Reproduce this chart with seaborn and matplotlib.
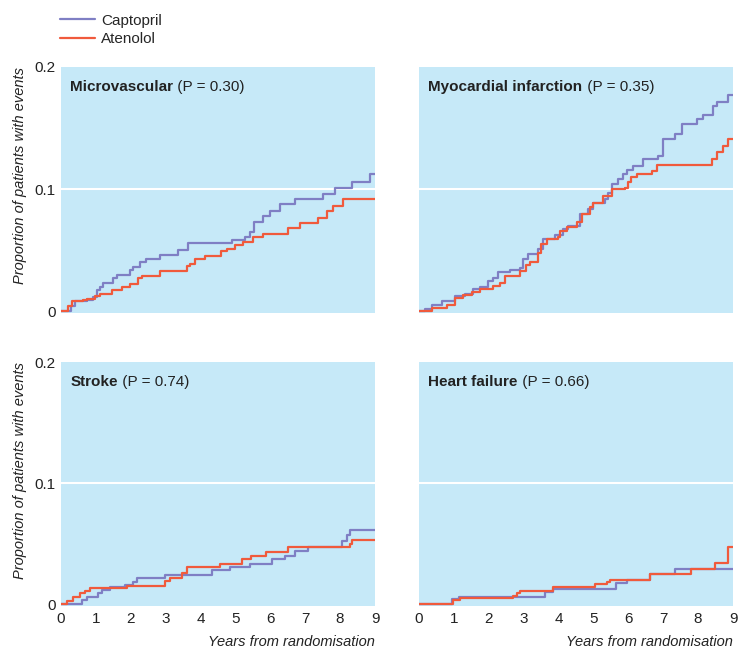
import matplotlib
matplotlib.use("Agg")
import matplotlib.pyplot as plt
import seaborn as sns
import pandas as pd
import numpy as np

# Step curves (years, cumulative proportion)
micro_cap_t = [0, 0.28, 0.40, 0.74, 0.93, 1.02, 1.12, 1.21, 1.48, 1.60, 1.98, 2.05, 2.26, 2.45, 2.84,
               3.36, 3.65, 4.89, 5.27, 5.42, 5.53, 5.80, 5.99, 6.28, 6.70, 7.52, 7.85, 8.33, 8.85, 9.0]
micro_cap_v = [0, 0.004, 0.008, 0.009, 0.012, 0.017, 0.020, 0.023, 0.027, 0.030, 0.034, 0.036, 0.040, 0.043, 0.046,
               0.050, 0.056, 0.058, 0.061, 0.065, 0.073, 0.078, 0.082, 0.088, 0.092, 0.096, 0.101, 0.106, 0.112, 0.112]
micro_ate_t = [0, 0.21, 0.31, 0.64, 0.74, 0.97, 1.12, 1.45, 1.74, 1.98, 2.22, 2.31, 2.84, 3.60, 3.70, 3.84,
               4.13, 4.60, 4.75, 4.99, 5.22, 5.51, 5.80, 6.51, 6.85, 7.37, 7.61, 7.80, 8.09, 9.0]
micro_ate_v = [0, 0.004, 0.008, 0.009, 0.010, 0.0125, 0.014, 0.017, 0.020, 0.022, 0.027, 0.029, 0.033, 0.037, 0.039, 0.043,
               0.045, 0.049, 0.051, 0.054, 0.057, 0.061, 0.063, 0.068, 0.072, 0.076, 0.082, 0.086, 0.092, 0.092]

mi_cap_t = [0, 0.17, 0.36, 0.65, 1.03, 1.32, 1.56, 1.75, 1.99, 2.13, 2.27, 2.61, 2.89, 2.99, 3.13, 3.42, 3.56,
            3.90, 4.14, 4.28, 4.61, 4.85, 5.00, 5.33, 5.42, 5.52, 5.71, 5.85, 5.95, 6.14, 6.43, 6.86, 7.00,
            7.34, 7.53, 7.96, 8.15, 8.43, 8.53, 8.86, 9.0]
mi_cap_v = [0, 0.002, 0.005, 0.008, 0.0125, 0.014, 0.018, 0.020, 0.0245, 0.027, 0.032, 0.034, 0.035, 0.043, 0.047, 0.051, 0.059,
            0.062, 0.067, 0.070, 0.080, 0.084, 0.089, 0.092, 0.097, 0.104, 0.108, 0.112, 0.116, 0.1185, 0.125, 0.127, 0.141,
            0.145, 0.153, 0.157, 0.161, 0.168, 0.171, 0.177, 0.177]
mi_ate_t = [0, 0.36, 0.79, 1.03, 1.27, 1.51, 1.75, 2.13, 2.32, 2.46, 2.89, 3.08, 3.18, 3.42, 3.51, 3.66, 3.99,
            4.04, 4.23, 4.52, 4.66, 4.90, 5.00, 5.28, 5.52, 5.90, 6.00, 6.09, 6.24, 6.67, 6.81, 8.29, 8.39,
            8.53, 8.72, 8.86, 9.0]
mi_ate_v = [0, 0.003, 0.005, 0.011, 0.013, 0.016, 0.0185, 0.021, 0.023, 0.029, 0.033, 0.0375, 0.040, 0.048, 0.055, 0.059, 0.061,
            0.066, 0.069, 0.073, 0.080, 0.085, 0.089, 0.094, 0.100, 0.101, 0.106, 0.1095, 0.112, 0.115, 0.1196, 0.1196, 0.125,
            0.130, 0.135, 0.141, 0.141]

stroke_cap_t = [0, 0.61, 0.74, 1.07, 1.17, 1.40, 1.83, 2.07, 2.17, 2.98, 4.32, 4.84, 5.42, 6.04, 6.42, 6.70,
                7.09, 8.04, 8.19, 8.28, 9.0]
stroke_cap_v = [0, 0.0035, 0.006, 0.009, 0.012, 0.014, 0.016, 0.0185, 0.022, 0.024, 0.028, 0.031, 0.033, 0.0375, 0.040, 0.044,
                0.047, 0.052, 0.057, 0.061, 0.061]
stroke_ate_t = [0, 0.18, 0.35, 0.54, 0.69, 0.83, 1.88, 2.98, 3.12, 3.46, 3.60, 4.56, 5.18, 5.46, 5.89, 6.51,
                8.28, 8.33, 9.0]
stroke_ate_v = [0, 0.003, 0.006, 0.009, 0.011, 0.013, 0.015, 0.019, 0.022, 0.026, 0.031, 0.033, 0.037, 0.040, 0.043, 0.047,
                0.050, 0.053, 0.053]

hf_cap_t = [0, 0.94, 1.16, 3.61, 3.85, 5.66, 5.95, 6.62, 7.34, 9.0]
hf_cap_v = [0, 0.0044, 0.0063, 0.0098, 0.0126, 0.0172, 0.020, 0.0246, 0.029, 0.029]
hf_ate_t = [0, 0.98, 1.17, 2.70, 2.80, 2.89, 3.85, 5.04, 5.38, 5.47, 6.62, 7.81, 8.48, 8.86, 9.0]
hf_ate_v = [0, 0.0036, 0.0049, 0.0071, 0.009, 0.011, 0.0139, 0.0167, 0.0186, 0.0199, 0.0246, 0.029, 0.0344, 0.047, 0.047]

panels = ["Microvascular", "Myocardial infarction", "Stroke", "Heart failure"]
p_values = ["0.30", "0.35", "0.74", "0.66"]
drugs = ["Captopril", "Atenolol"]
x_ticks = [0, 1, 2, 3, 4, 5, 6, 7, 8, 9]
y_ticks = [0, 0.1, 0.2]
y_tick_labels = ["0", "0.1", "0.2"]

curves = {
    ("Microvascular", "Captopril"): (micro_cap_t, micro_cap_v),
    ("Microvascular", "Atenolol"): (micro_ate_t, micro_ate_v),
    ("Myocardial infarction", "Captopril"): (mi_cap_t, mi_cap_v),
    ("Myocardial infarction", "Atenolol"): (mi_ate_t, mi_ate_v),
    ("Stroke", "Captopril"): (stroke_cap_t, stroke_cap_v),
    ("Stroke", "Atenolol"): (stroke_ate_t, stroke_ate_v),
    ("Heart failure", "Captopril"): (hf_cap_t, hf_cap_v),
    ("Heart failure", "Atenolol"): (hf_ate_t, hf_ate_v),
}

rows = []
for (panel, drug), (t, v) in curves.items():
    for ti, vi in zip(t, v):
        rows.append({"panel": panel, "drug": drug, "year": ti, "value": vi})
df = pd.DataFrame(rows)

colors = {"Captopril": "#7f7fc4", "Atenolol": "#f05a3c"}
bg = "#c6e9f8"
ink = "#222222"

sns.set_theme(style="white")
plt.rcParams["font.family"] = ["Liberation Sans", "DejaVu Sans"]
plt.rcParams["axes.facecolor"] = bg

fig = plt.figure(figsize=(7.46, 6.5), dpi=100)
W, H = 746, 650
boxes = [(61, 67, 375, 313), (419, 67, 733, 313), (61, 362, 375, 606), (419, 362, 733, 606)]

for i, panel in enumerate(panels):
    x0, y0, x1, y1 = boxes[i]
    ax = fig.add_axes([x0 / W, 1 - y1 / H, (x1 - x0) / W, (y1 - y0) / H])
    ax.set_facecolor(bg)
    sub = df[df.panel == panel]
    sns.lineplot(data=sub, x="year", y="value", hue="drug", hue_order=drugs, palette=colors,
                 estimator=None, sort=False, drawstyle="steps-post", linewidth=1.6, legend=False, ax=ax)
    ax.axhline(0.1, color="white", lw=1.5, zorder=0.5)
    ax.set_xlim(0, 9)
    ax.set_ylim(-0.0015, 0.2)
    for s in ax.spines.values():
        s.set_visible(False)
    ax.tick_params(length=0, labelsize=11, colors=ink, pad=4)
    ax.set_xticks(x_ticks)
    ax.set_yticks(y_ticks)
    if i % 2 == 0:
        ax.set_yticklabels(y_tick_labels)
        ax.set_ylabel("Proportion of patients with events", style="italic", fontsize=10.5,
                      color=ink, loc="top", labelpad=5)
    else:
        ax.set_yticklabels([])
        ax.set_ylabel("")
    if i >= 2:
        ax.set_xticklabels([str(x) for x in x_ticks])
        ax.set_xlabel("Years from randomisation", style="italic", fontsize=10.5,
                      color=ink, loc="right", labelpad=7)
    else:
        ax.set_xticklabels([])
        ax.set_xlabel("")
    t = ax.text(0.03, 0.92, panel, transform=ax.transAxes, fontsize=11, fontweight="bold",
                color=ink, va="center", ha="left")
    ax.annotate(f" (P = {p_values[i]})", xy=(1, 0.5), xycoords=t, va="center", ha="left",
                fontsize=11, color=ink)

handles = [plt.Line2D([], [], color=colors[d], lw=1.6) for d in drugs]
fig.legend(handles, drugs, loc="upper left", bbox_to_anchor=(49 / W, 1 - 3 / H), frameon=False,
           fontsize=11, handlelength=2.3, handletextpad=0.4, labelspacing=0.3, borderpad=0.2)

fig.savefig("out.png", dpi=100)
